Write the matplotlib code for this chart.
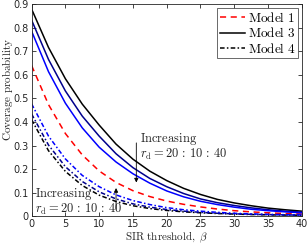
import numpy as np
import matplotlib
matplotlib.use("Agg")
import matplotlib.pyplot as plt

plt.rcParams['mathtext.fontset'] = 'cm'
plt.rcParams['font.family'] = 'DejaVu Sans'

# SIR threshold grid
beta = [0, 2.5, 5, 7.5, 10, 12.5, 15, 17.5, 20, 22.5, 25, 27.5, 30, 32.5, 35, 37.5, 40]

# Model 3 (solid), r_d = 20, 30, 40
m3_black = [0.88, 0.717, 0.584, 0.476, 0.387, 0.306, 0.242, 0.191, 0.151, 0.118, 0.092, 0.071, 0.056, 0.044, 0.034, 0.027, 0.021]
m3_navy = [0.833, 0.666, 0.532, 0.425, 0.34, 0.265, 0.206, 0.16, 0.125, 0.096, 0.073, 0.057, 0.045, 0.035, 0.027, 0.021, 0.017]
m3_blue = [0.786, 0.614, 0.48, 0.375, 0.293, 0.23, 0.18, 0.14, 0.107, 0.082, 0.063, 0.049, 0.038, 0.029, 0.023, 0.018, 0.014]

# Model 1 (dashed)
m1_red = [0.64, 0.474, 0.351, 0.26, 0.192, 0.143, 0.108, 0.083, 0.064, 0.05, 0.039, 0.03, 0.023, 0.018, 0.014, 0.011, 0.009]

# Model 4 (dash-dot)
m4_blue = [0.477, 0.34, 0.243, 0.173, 0.125, 0.09, 0.066, 0.049, 0.036, 0.027, 0.021, 0.016, 0.012, 0.0095, 0.0075, 0.006, 0.005]
m4_navy = [0.434, 0.302, 0.21, 0.147, 0.103, 0.073, 0.052, 0.038, 0.028, 0.021, 0.016, 0.012, 0.0095, 0.0075, 0.006, 0.005, 0.004]
m4_black = [0.41, 0.278, 0.19, 0.13, 0.089, 0.062, 0.044, 0.032, 0.024, 0.018, 0.014, 0.011, 0.0085, 0.0067, 0.0053, 0.0043, 0.0035]

navy = (0, 0, 0.55)
lw = 1.1
dd = (0, (3, 1.5, 1, 1.5))
txt = '#262626'

fig = plt.figure(figsize=(3.07, 2.45), dpi=100)
ax = fig.add_axes([0.103, 0.118, 0.88, 0.864])

l1, = ax.plot(beta, m1_red, color='red', ls=(0, (4, 3)), lw=lw)
l3, = ax.plot(beta, m3_black, color='black', ls='-', lw=lw)
ax.plot(beta, m3_navy, color=navy, ls='-', lw=lw)
ax.plot(beta, m3_blue, color='blue', ls='-', lw=lw)
l4, = ax.plot(beta, m4_black, color='black', ls=dd, lw=lw)
ax.plot(beta, m4_navy, color=navy, ls=dd, lw=lw)
ax.plot(beta, m4_blue, color='blue', ls=dd, lw=lw)

ax.set_xlim(0, 40)
ax.set_ylim(0, 0.9)
ax.set_xticks(np.arange(0, 41, 5))
ax.set_yticks(np.arange(0, 0.91, 0.1))
ax.set_yticklabels(['0'] + ['%.1f' % v for v in np.arange(0.1, 0.91, 0.1)])
ax.tick_params(direction='in', top=True, right=True, length=3, width=0.6,
               labelsize=7, colors=txt, pad=2)
for s in ax.spines.values():
    s.set_linewidth(0.6)
    s.set_color(txt)

ax.set_xlabel(r'$\mathrm{SIR\ threshold,}\ \beta$', fontsize=8, color=txt)
ax.xaxis.set_label_coords(0.5, -0.064)
ax.set_ylabel(r'$\mathrm{Coverage\ probability}$', fontsize=8, color=txt)
ax.yaxis.set_label_coords(-0.063, 0.6)

leg = ax.legend([l1, l3, l4],
                [r'$\mathrm{Model\ 1}$', r'$\mathrm{Model\ 3}$', r'$\mathrm{Model\ 4}$'],
                loc='upper right', fontsize=9.5, frameon=True, fancybox=False,
                borderpad=0.2, labelspacing=0.1, handlelength=1.9,
                handletextpad=0.2, borderaxespad=0.3)
leg.get_frame().set_edgecolor(txt)
leg.get_frame().set_linewidth(0.6)

rd = r'$r_\mathrm{d}=20\,:\,10\,:\,40$'

# annotations
ax.annotate('', xy=(15.5, 0.131), xytext=(15.5, 0.323),
            arrowprops=dict(arrowstyle='-|>', color='black', lw=0.6, mutation_scale=6))
ax.text(16.1, 0.326, r'$\mathrm{Increasing}$', fontsize=9, color=txt, va='center')
ax.text(16.1, 0.262, rd, fontsize=9, color=txt, va='center')

ax.annotate('', xy=(12.5, 0.131), xytext=(12.5, 0.017),
            arrowprops=dict(arrowstyle='-|>', color='black', lw=0.6, mutation_scale=6))
ax.text(0.5, 0.092, r'$\mathrm{Increasing}$', fontsize=9, color=txt, va='center')
ax.text(0.5, 0.030, rd, fontsize=9, color=txt, va='center')

fig.savefig('out.png', dpi=100)
